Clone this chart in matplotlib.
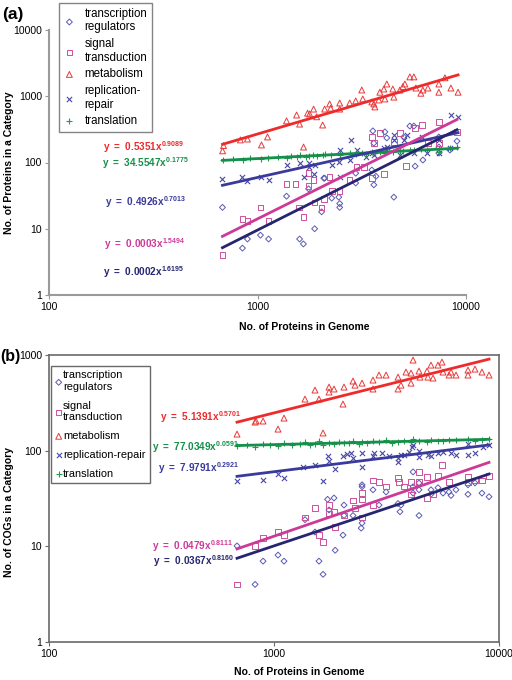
import numpy as np
import matplotlib
matplotlib.use("Agg")
import matplotlib.pyplot as plt

plt.rcParams['font.family'] = ['Liberation Sans', 'DejaVu Sans']
plt.rcParams['mathtext.fontset'] = 'custom'
plt.rcParams['mathtext.rm'] = 'Liberation Sans'
plt.rcParams['mathtext.bf'] = 'Liberation Sans:bold'

# ---------------- Panel (a): proteins per category ----------------
a_tr_x = [679, 847, 895, 1033, 1130, 1378, 1592, 1660, 1758, 1880, 2080, 2270, 2030, 2454, 2479, 2479,
          2958, 3614, 3535, 3700, 4508, 5700, 6210, 7410, 3575, 4083, 5379, 5624, 3614, 4170, 5030,
          7410, 7410, 9050, 8370, 2099, 2958]
a_tr_y = [21, 5.1, 7.0, 8.0, 7.0, 31, 7.0, 5.9, 40, 10, 58, 29, 18, 30, 24, 21,
          49, 46, 77, 62, 30, 88, 109, 139, 300, 290, 355, 355, 196, 235, 243,
          243, 171, 210, 154, 58, 69]

a_sig_x = [679, 847, 895, 1033, 1130, 1378, 1520, 1580, 1660, 1758, 1758, 1858, 1880, 2030, 2080, 2218,
           2270, 2479, 2768, 2990, 3240, 3535, 3535, 3614, 3862, 4037, 4508, 4817, 5150, 5700, 6145,
           6565, 7410, 7410, 9050]
a_sig_y = [4.0, 14, 13, 21, 13, 47, 47, 21, 15, 69, 44, 54, 25, 21, 28, 60,
           37, 37, 54, 85, 85, 58, 243, 196, 278, 67, 204, 278, 88, 330, 368,
           196, 410, 196, 290]

a_met_x = [687, 680, 828, 895, 1045, 1117, 1378, 1540, 1592, 1663, 1738, 1778, 1858, 1922, 2053, 2099,
           2218, 2244, 2479, 2479, 2768, 2958, 3163, 3199, 3535, 3614, 3655, 3819, 3862, 4037, 4170,
           4083, 4457, 4508, 4817, 4978, 5093, 5379, 5624, 5750, 6074, 6210, 6565, 7410, 7410, 7925,
           8463, 9160]
a_met_y = [180, 150, 219, 226, 184, 243, 425, 521, 380, 171, 555, 540, 640, 490, 368, 640,
           765, 660, 790, 640, 790, 850, 1242, 910, 820, 765, 690, 878, 1150, 1285, 1530,
           910, 1285, 970, 1242, 1400, 1530, 1960, 1960, 1330, 1110, 1242, 1330, 1530, 1150, 1900,
           1330, 1150]

a_rep_x = [679, 847, 895, 1045, 1130, 1378, 1592, 1663, 1758, 1758, 1858, 1880, 2270, 2454, 2479, 2479,
           2768, 2802, 2990, 3330, 3535, 3614, 4037, 4170, 4508, 4508, 4817, 5030, 5200, 5624, 6145,
           6490, 7410, 7410, 8370, 8463, 9160]
a_rep_y = [56, 60, 53, 60, 54, 92, 98, 60, 98, 85, 67, 92, 92, 102, 154, 60,
           109, 219, 154, 121, 139, 130, 165, 171, 260, 219, 130, 219, 260, 139, 243,
           139, 219, 139, 165, 521, 490]

a_tl_x = [680, 760, 850, 920, 1040, 1120, 1250, 1380, 1450, 1540, 1600, 1700, 1760, 1850, 1920, 2050,
          2100, 2250, 2480, 2500, 2770, 2960, 3160, 3300, 3540, 3650, 3860, 4040, 4170, 4460, 4800,
          5000, 5380, 5620, 6070, 6500, 7400, 7400, 8400, 9100]
a_tl_y = [108, 112, 110, 115, 112, 118, 120, 116, 125, 120, 128, 122, 125, 130, 126, 128,
          135, 130, 133, 128, 138, 135, 140, 136, 142, 138, 145, 140, 150, 145, 150,
          148, 155, 152, 158, 155, 160, 145, 165, 170]

# ---------------- Panel (b): COGs per category ----------------
b_tr_x = [685, 824, 894, 1042, 1108, 1373, 1521, 1585, 1652, 1730, 1756, 1848, 1870, 2026, 2047, 2047,
          2245, 2440, 2462, 2462, 2462, 2754, 2929, 3148, 3558, 3630, 3667, 4150, 4150, 4150, 4410,
          4410, 4410, 4986, 4986, 5355, 5640, 5995, 6120, 6440, 7280, 7280, 7820, 8400, 9030]
b_tr_y = [10.1, 4.0, 7.0, 8.1, 7.0, 19, 14.1, 7.0, 5.1, 31, 24, 32, 9.1, 13.1, 27, 21,
          21, 15.5, 17.5, 44, 42, 39, 27, 37, 28, 23, 27, 60, 42, 36, 39,
          21, 46, 39, 35, 41, 36, 37, 34, 39, 35, 44, 46, 36, 33]

b_sig_x = [685, 824, 894, 1042, 1108, 1373, 1521, 1585, 1652, 1756, 1756, 1848, 1870, 2047, 2245, 2291,
           2462, 2462, 2462, 2754, 2754, 2929, 3148, 3558, 3600, 3780, 4064, 4064, 4410, 4410, 4786,
           4786, 5090, 5355, 5580, 5995, 7280, 7280, 7820, 8400, 9030]
b_sig_y = [4.0, 10.1, 12.2, 14.1, 13.1, 20, 25, 13.1, 11.1, 22, 27, 23, 16, 21, 30, 25,
           36, 31, 20, 49, 27, 47, 42, 52, 47, 42, 47, 35, 47, 60, 32,
           53, 35, 54, 71, 47, 47, 53, 49, 49, 54]

b_met_x = [685, 824, 832, 894, 1042, 1108, 1373, 1521, 1585, 1652, 1756, 1756, 1848, 2026, 2047, 2245,
           2291, 2462, 2754, 2754, 2929, 3148, 3558, 3558, 3667, 3861, 4064, 4064, 4150, 4410, 4454,
           4786, 4831, 4986, 5090, 5355, 5580, 5640, 5995, 6120, 6440, 7280, 7820, 7280, 8400, 9030]
b_met_y = [149, 199, 204, 204, 168, 219, 346, 430, 346, 153, 462, 410, 441, 307, 462, 534,
           484, 508, 547, 441, 617, 617, 587, 441, 484, 663, 647, 508, 885, 679, 587,
           679, 587, 784, 574, 784, 843, 663, 617, 663, 617, 695, 712, 617, 663, 617]

b_rep_x = [685, 894, 1042, 1108, 1350, 1521, 1652, 1730, 1756, 1870, 2026, 2110, 2200, 2245, 2462, 2462,
           2754, 2790, 3010, 3230, 3558, 3558, 3667, 3780, 4000, 4100, 4150, 4410, 4410, 4831, 4986,
           5355, 5640, 6120, 6440, 7280, 7280, 7820, 8480, 9030]
b_rep_y = [48, 49, 57, 52, 67, 71, 48, 88, 78, 64, 88, 92, 94, 84, 94, 67,
           88, 94, 94, 88, 76, 84, 90, 90, 97, 109, 114, 86, 99, 90, 88,
           94, 97, 94, 90, 90, 118, 94, 109, 114]

b_tl_x = [685, 760, 824, 894, 960, 1042, 1108, 1200, 1300, 1373, 1450, 1521, 1585, 1652, 1756, 1848,
          1950, 2047, 2150, 2245, 2380, 2462, 2600, 2754, 2929, 3148, 3350, 3558, 3780, 4064, 4150,
          4410, 4786, 4986, 5355, 5640, 5995, 6440, 7280, 7820, 8400, 9030]
b_tl_y = [112, 115, 110, 118, 114, 112, 120, 116, 118, 122, 114, 118, 125, 116, 120, 118,
          124, 119, 121, 126, 118, 123, 120, 125, 122, 128, 121, 124, 127, 122, 133,
          126, 124, 129, 127, 125, 130, 128, 131, 127, 130, 132]

labels_a = ["transcription\nregulators", "signal\ntransduction", "metabolism",
            "replication-\nrepair", "translation"]
labels_b = ["transcription\nregulators", "signal\ntransduction", "metabolism",
            "replication-repair", "translation"]

eq_a = [("0.5351", "0.9089"), ("34.5547", "0.1775"), ("0.4926", "0.7013"),
        ("0.0003", "1.5494"), ("0.0002", "1.6195")]
eq_b = [("5.1391", "0.5701"), ("77.0349", "0.0591"), ("7.9791", "0.2921"),
        ("0.0479", "0.8111"), ("0.0367", "0.8160")]

ticks_x = [100, 1000, 10000]

# ---------------- styling ----------------
c_tr = '#5a5ab4'
c_sig = '#d04f9c'
c_met = '#e83a3a'
c_rep = '#4848a6'
c_tl = '#239a4c'
l_met = '#ee2a2a'
l_tl = '#14904a'
l_rep = '#3a3a9c'
l_sig = '#cc3a98'
l_tr = '#262670'

fig = plt.figure(figsize=(5.12, 6.8), dpi=100)
axA = fig.add_axes([49/512, 1-295/680, (466-49)/512, (295-30)/680])
axB = fig.add_axes([49/512, 1-642/680, (499-49)/512, (642-355)/680])


def fitline(ax, x, y, color):
    x = np.asarray(x, float)
    y = np.asarray(y, float)
    k, b = np.polyfit(np.log10(x), np.log10(y), 1)
    xs = np.array([x.min(), x.max()])
    ax.plot(xs, 10**(b + k*np.log10(xs)), color=color, lw=2.0, zorder=3)


def draw(ax, data, ylim, yticks):
    (trx, tr_y), (sgx, sgy), (mtx, mty), (rpx, rpy), (tlx, tly) = data
    ax.set_xscale('log')
    ax.set_yscale('log')
    h = []
    h.append(ax.scatter(trx, tr_y, marker='D', s=9, facecolors='none', edgecolors=c_tr, linewidths=0.7, zorder=2))
    h.append(ax.scatter(sgx, sgy, marker='s', s=16, facecolors='none', edgecolors=c_sig, linewidths=0.7, zorder=2))
    h.append(ax.scatter(mtx, mty, marker='^', s=18, facecolors='none', edgecolors=c_met, linewidths=0.7, zorder=2))
    h.append(ax.scatter(rpx, rpy, marker='x', s=14, color=c_rep, linewidths=0.8, zorder=2))
    h.append(ax.scatter(tlx, tly, marker='+', s=18, color=c_tl, linewidths=0.8, zorder=2))
    fitline(ax, mtx, mty, l_met)
    fitline(ax, tlx, tly, l_tl)
    fitline(ax, rpx, rpy, l_rep)
    fitline(ax, sgx, sgy, l_sig)
    fitline(ax, trx, tr_y, l_tr)
    ax.set_xlim(100, 10000)
    ax.set_ylim(*ylim)
    ax.set_xticks(ticks_x)
    ax.set_xticklabels([str(t) for t in ticks_x])
    ax.set_yticks(yticks)
    ax.set_yticklabels([str(t) for t in yticks])
    ax.minorticks_off()
    ax.tick_params(labelsize=7.5, length=3, width=0.8, pad=2)
    return h


hA = draw(axA, [(a_tr_x, a_tr_y), (a_sig_x, a_sig_y), (a_met_x, a_met_y), (a_rep_x, a_rep_y), (a_tl_x, a_tl_y)],
          (1, 10000), [1, 10, 100, 1000, 10000])
hB = draw(axB, [(b_tr_x, b_tr_y), (b_sig_x, b_sig_y), (b_met_x, b_met_y), (b_rep_x, b_rep_y), (b_tl_x, b_tl_y)],
          (1, 1000), [1, 10, 100, 1000])

for s in ['top', 'right']:
    axA.spines[s].set_visible(False)
for s in ['left', 'bottom']:
    axA.spines[s].set_color('#9a9a9a')
    axA.spines[s].set_linewidth(1.5)
axA.tick_params(color='#9a9a9a')
for s in axB.spines.values():
    s.set_color('#6a6a6a')
    s.set_linewidth(1.2)
axB.tick_params(color='#6a6a6a')

legA = fig.legend(hA, labels_a, loc='upper left', bbox_to_anchor=(59/512, 1-3/680),
                  fontsize=8.3, frameon=True, fancybox=False, edgecolor='#666666',
                  handletextpad=0.8, labelspacing=0.4, borderpad=0.4, handlelength=1.0,
                  borderaxespad=0)
legA.get_frame().set_linewidth(1.0)
legB = fig.legend(hB, labels_b, loc='upper left', bbox_to_anchor=(51/512, 1-366/680),
                  fontsize=7.9, frameon=True, fancybox=False, edgecolor='#444444',
                  handletextpad=0.1, labelspacing=0.8, borderpad=0.4, handlelength=0.6,
                  borderaxespad=0)
legB.get_frame().set_linewidth(1.0)

eq_colors = [l_met, l_tl, l_rep, l_sig, l_tr]
posA = [(103, 147), (102, 163), (105, 202), (104, 244), (103, 272)]
posB = [(160, 417), (152, 447), (158, 468), (152, 546), (153, 561)]
for (c, p), col, (px, py) in zip(eq_a, eq_colors, posA):
    fig.text(px/512, 1-py/680, r'$\mathbf{y\ =\ %sx^{%s}}$' % (c, p), color=col,
             fontsize=7.2, ha='left', va='center')
for (c, p), col, (px, py) in zip(eq_b, eq_colors, posB):
    fig.text(px/512, 1-py/680, r'$\mathbf{y\ =\ %sx^{%s}}$' % (c, p), color=col,
             fontsize=7.2, ha='left', va='center')

fig.text(304/512, 1-327/680, 'No. of Proteins in Genome', fontsize=7.5, fontweight='bold',
         ha='center', va='center')
fig.text(299/512, 1-672/680, 'No. of Proteins in Genome', fontsize=7.5, fontweight='bold',
         ha='center', va='center')
fig.text(9/512, 1-163/680, 'No. of Proteins in a Category', fontsize=7.5, fontweight='bold',
         rotation=90, ha='center', va='center')
fig.text(9/512, 1-512/680, 'No. of COGs in a Category', fontsize=7.5, fontweight='bold',
         rotation=90, ha='center', va='center')
fig.text(2/512, 1-15/680, '(a)', fontsize=12.5, fontweight='bold', ha='left', va='center')
fig.text(0/512, 1-357/680, '(b)', fontsize=11.5, fontweight='bold', ha='left', va='center')

fig.savefig('out.png', dpi=100)
